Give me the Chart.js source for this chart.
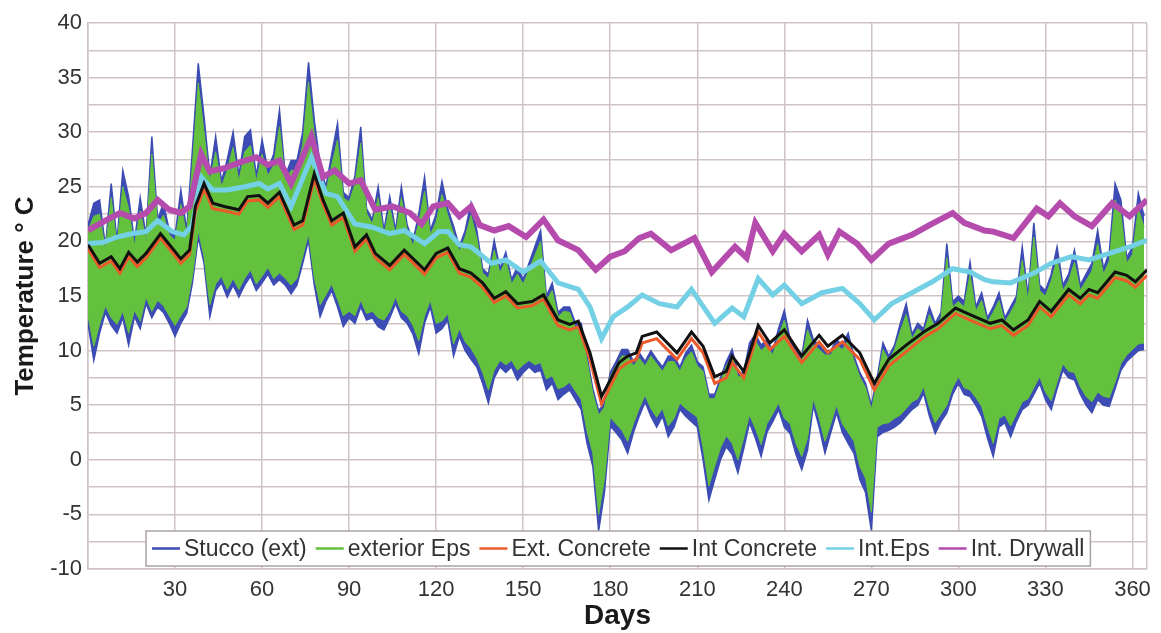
<!DOCTYPE html>
<html>
<head>
<meta charset="utf-8">
<title>Wall layer temperatures</title>
<script src="https://cdn.jsdelivr.net/npm/chart.js@4/dist/chart.umd.min.js"></script>
<style>
  html, body { margin: 0; padding: 0; background: #fff; }
  canvas { display: block; }
</style>
</head>
<body>
<canvas id="chart" width="1161" height="633"></canvas>
<script>
// ---- data -------------------------------------------------------------
// Surface layers are sampled every 2 days as daily upper / lower envelopes (°C).
const surfaceStep = 2;

const stuccoHigh = [
  21.5,23.5,23.8,19.5,25.3,20,26.5,24.1,20,24.0,
  20.5,29.6,22,23.5,21,20.5,24.7,21,28.4,36.3,
  31.4,26,29.6,25.5,27.5,30.0,26,29.6,30.2,26,
  29.3,26.5,28,32.0,26,27.4,27.4,30,36.4,31.1,
  27,25,28,30.8,24.5,24,26,30.5,23,22,
  25.0,21,24.1,21,25.0,21.5,20,22.5,25.9,21,
  22.5,25.5,23,21.4,19.5,21,23.5,21.0,17.5,17,
  20.1,17.5,19,16.5,17.7,16.5,18,19.5,21.0,15,
  16.2,13.5,14,14.0,12.5,12.5,9.5,6.5,4.5,5.2,
  8,9,10.1,10.1,9,9.8,9,10,9.2,8.5,
  9.5,9.5,8.5,9.8,10.5,9,8.5,6,6,7.5,
  9,10.1,8,8,10.7,11.5,10.5,11,10,12,
  13.7,11,10,9.5,12.8,11,10.5,10,10,11,
  10.5,11.6,9.5,8,7,5,7.5,10.7,9.5,10.5,
  12.5,14.3,11.5,12.5,12,14,12.5,13.5,19.8,14.5,
  15,14.5,18.1,14,15.3,13,14,15.3,13,14,
  15,19.5,15,21.7,16,15.5,17,19.5,16,17,
  19.2,16,17,18,21.0,17.5,19,25.3,23.8,18.5,
  19.5,24.4,22.3
];
const stuccoLow = [
  12.5,9.1,11.6,13.5,12.3,11.6,13,10.5,13.1,12,
  14.3,13,14.0,13.5,12.5,11.3,12.5,13.4,16.2,20.4,
  18,13.1,15.5,16.2,14.9,16,14.9,16,16.8,15.5,
  16.2,17,16,16.5,16,15.2,16,18,20.1,16,
  13.1,14.5,15.5,14,12.2,13,12.5,14,12.8,13,
  12.2,11.9,13,14.3,13,12.5,11.5,9.7,12.5,14.0,
  11.6,12,12.8,9.5,11.3,10,9.2,8.5,7,5.2,
  7.5,8.5,8,8.5,7.3,8,8.5,8,8.2,6.4,
  7,5.5,6,6.4,5.5,4.6,1.5,-0.6,-6.5,-3,
  3.1,2.5,1.8,0.6,2.5,4,5.3,4,3.0,4,
  2.1,3,4.6,4,3.5,3.0,0,-3.7,-1.8,0,
  1.2,0.5,-1.2,1,3.4,2,0.3,2.5,3.5,4.6,
  3,2.4,0.5,-0.9,0.9,5,3,0.6,2.5,4.3,
  2.5,1.5,0.6,-1.8,-3,-6.5,2.1,2.5,2.7,3,
  3.4,4,4.6,5,6.1,4,2.4,3.5,4.3,6,
  7.0,6,5.8,5,4.0,2,0.3,3,3.4,2.1,
  3.5,4.6,5,6,7.0,5.5,4.6,6.5,8.2,7.5,
  7.3,6,5,4.3,5.5,5,4.9,6.5,8.2,9,
  9.5,10,10.1
];
const epsHigh = [
  21.0,22.3,22.5,19.2,24.0,19.6,25.0,23.0,19.6,22.8,
  20.1,28.0,21.5,22.4,20.6,20.1,23.4,20.6,27.0,34.5,
  30.0,25.5,28.2,25.0,26.5,28.6,25.5,28.2,28.8,25.5,
  28.0,26.0,27.0,30.5,25.5,26.5,26.5,28.8,34.6,29.8,
  26.4,24.6,27.0,29.3,24.0,23.6,25.2,29.0,22.6,21.6,
  24.0,20.6,23.2,20.6,24.0,21.1,19.6,21.7,24.6,20.6,
  21.8,24.3,22.4,20.7,19.1,20.4,22.4,20.3,17.1,16.6,
  19.2,17.1,18.3,16.1,17.0,16.1,17.4,18.7,20.0,14.6,
  15.5,13.1,13.6,13.5,12.1,12.0,9.1,6.1,4.1,4.8,
  7.6,8.6,9.5,9.5,8.6,9.3,8.6,9.5,8.8,8.1,
  9.0,9.0,8.1,9.3,9.9,8.6,8.1,5.6,5.6,7.1,
  8.6,9.5,7.6,7.6,10.0,10.9,10.0,10.5,9.6,11.3,
  12.8,10.5,9.6,9.1,11.9,10.5,10.1,9.6,9.6,10.5,
  10.1,10.9,9.1,7.6,6.6,4.6,7.1,10.1,9.1,10.1,
  11.8,13.3,11.1,12.0,11.6,13.3,12.1,13.0,18.5,14.0,
  14.5,14.0,17.0,13.6,14.6,12.6,13.5,14.6,12.6,13.5,
  14.5,18.3,14.5,20.4,15.5,15.0,16.4,18.4,15.5,16.4,
  18.1,15.5,16.4,17.3,19.8,17.0,18.2,23.8,22.5,18.0,
  18.8,23.0,21.3
];
const epsLow = [
  13.2,10.4,12.4,14.1,13.0,12.4,13.6,11.6,13.7,12.7,
  14.9,13.6,14.6,14.1,13.2,12.3,13.2,14.0,16.8,21.0,
  18.6,14.2,16.1,16.8,15.6,16.6,15.6,16.6,17.4,16.1,
  16.8,17.6,16.6,17.1,16.6,16.0,16.6,18.6,20.7,16.7,
  14.2,15.1,16.1,14.7,13.2,13.6,13.2,14.6,13.4,13.6,
  13.0,12.8,13.6,14.9,13.6,13.2,12.3,10.9,13.2,14.6,
  12.5,12.7,13.4,10.6,12.0,10.8,10.2,9.3,8.0,6.4,
  8.2,9.1,8.7,9.1,8.2,8.7,9.1,8.7,8.9,7.4,
  7.7,6.5,6.7,7.1,6.3,5.5,2.6,0.6,-5.0,-1.8,
  3.9,3.3,2.7,1.7,3.3,4.7,5.9,4.7,3.9,4.7,
  3.1,3.8,5.2,4.7,4.3,3.9,1.1,-2.4,-0.6,1.1,
  2.2,1.5,0.0,2.0,4.1,2.9,1.4,3.3,4.2,5.2,
  3.8,3.3,1.5,0.3,2.0,5.6,3.8,1.7,3.3,5.0,
  3.3,2.5,1.7,-0.6,-1.7,-4.8,3.0,3.3,3.4,3.8,
  4.1,4.7,5.3,5.6,6.7,4.8,3.4,4.2,5.0,6.6,
  7.6,6.6,6.4,5.7,4.9,3.1,1.5,3.8,4.1,3.1,
  4.2,5.3,5.6,6.6,7.6,6.2,5.4,7.1,8.8,8.1,
  8.0,6.7,5.8,5.3,6.2,5.8,5.7,7.1,8.8,9.6,
  10.1,10.6,10.7
];

// Concrete core temperatures (°C) at the listed days.
const concreteDays = [
  0,4,8,11,14,17,20,25,29,32,35,37,40,43,47,52,55,59,62,66,
  71,74,78,81,84,88,92,96,99,104,109,116,120,124,128,132,136,140,144,148,
  153,157,162,166,169,173,177,180,183,186,189,191,196,203,208,212,216,220,222,226,
  231,235,240,246,252,255,260,266,271,276,282,288,293,299,304,311,315,319,324,328,
  332,338,342,345,348,354,358,361,365
];
const intConcrete = [
  19.7,18.0,18.6,17.5,19.0,18.1,18.9,20.7,19.4,18.4,19.2,23.2,25.3,23.5,23.2,22.9,24.1,24.2,23.5,24.5,
  21.5,21.9,26.2,23.8,21.9,22.6,19.5,20.6,18.9,17.8,19.2,17.4,18.9,19.4,17.5,17.1,16.2,14.8,15.4,14.3,
  14.5,15.1,12.8,12.4,12.7,9.8,5.8,7.3,8.9,9.5,9.8,11.3,11.7,9.8,11.7,10.4,7.6,8.1,9.5,8.1,
  12.3,10.7,11.9,9.5,11.4,10.4,11.4,9.8,7.0,9.2,10.5,11.7,12.5,13.9,13.3,12.5,12.8,11.9,12.8,14.5,
  13.6,15.6,14.8,15.6,15.3,17.2,16.9,16.3,17.4
];
const extConcrete = [
  19.3,17.6,18.2,17.1,18.6,17.7,18.5,20.3,19.0,18.0,18.8,22.7,24.8,23.0,22.8,22.5,23.7,23.8,23.1,24.1,
  21.1,21.5,25.7,23.4,21.5,22.2,19.1,20.2,18.5,17.4,18.8,17.0,18.5,19.0,17.1,16.7,15.8,14.4,15.0,13.9,
  14.1,14.7,12.3,11.9,12.2,9.2,5.1,6.7,8.3,8.9,9.2,10.7,11.1,9.2,11.1,9.8,7.0,7.5,8.9,7.5,
  11.7,10.1,11.3,8.9,10.8,9.8,10.8,9.2,6.4,8.6,9.9,11.2,12.0,13.4,12.8,12.0,12.3,11.4,12.3,14.0,
  13.1,15.1,14.3,15.1,14.8,16.7,16.4,15.8,16.9
];

// Interior insulation (EPS) temperatures (°C).
const intEpsDays = [
  0,5,10,15,20,24,29,33,36,39,43,48,54,59,62,66,70,77,82,86,
  92,98,104,109,116,121,124,128,132,139,144,150,156,162,169,173,177,181,186,191,
  197,203,208,216,222,226,231,236,240,246,253,260,266,271,277,284,291,298,304,309,
  312,318,326,332,339,345,352,359,365
];
const intEps = [
  19.8,19.9,20.4,20.7,20.9,21.9,20.9,20.6,21.5,25.9,24.7,24.7,25.0,25.3,24.8,25.3,23.2,27.7,24.4,24.1,
  21.6,21.3,20.7,21.0,19.8,20.9,20.9,19.7,19.5,18.0,18.3,17.2,18.2,16.2,15.6,14.0,11.1,13.1,14.0,15.1,
  14.3,14.0,15.6,12.5,13.9,13.1,16.6,15.1,16.0,14.3,15.3,15.7,14.3,12.8,14.3,15.3,16.3,17.5,17.2,16.5,
  16.3,16.2,17.1,18.0,18.6,18.3,18.9,19.5,20.1
];

// Interior drywall temperatures (°C).
const drywallDays = [
  0,6,11,16,20,24,28,32,35,39,42,47,53,58,62,66,70,77,81,85,
  90,94,99,105,111,115,119,124,128,132,135,140,145,151,157,162,169,175,180,185,
  190,194,201,209,215,223,227,230,236,240,246,252,255,259,265,270,276,284,290,298,
  302,309,312,319,327,331,335,340,346,353,359,365
];
const intDrywall = [
  21.0,21.9,22.6,22.1,22.6,23.8,22.9,22.6,23.2,28.0,26.4,26.7,27.3,27.7,27.0,27.4,25.3,29.6,25.9,26.5,
  25.3,25.6,22.9,23.2,22.6,21.6,23.2,23.5,22.3,23.2,21.5,21.0,21.4,20.4,22.0,20.1,19.2,17.4,18.6,19.1,
  20.3,20.7,19.2,20.3,17.2,19.5,18.5,21.7,19.1,20.7,19.1,20.6,18.8,20.9,19.8,18.3,19.8,20.6,21.5,22.6,
  21.7,21.0,20.9,20.3,23.0,22.3,23.5,22.3,21.4,23.5,22.3,23.8
];

const seriesNames = ['Stucco (ext)', 'exterior Eps', 'Ext. Concrete', 'Int Concrete', 'Int.Eps', 'Int. Drywall'];
// Day grid lines: every 30 days plus the end of the year.
const dayTicks = [0, 30, 60, 90, 120, 150, 180, 210, 240, 270, 300, 330, 360, 365];
const xLabelStep = 30;
const yLabelStep = 5;

// ---- helpers ----------------------------------------------------------
const surfaceDays = stuccoHigh.map((_, i) => i * surfaceStep);
const toPoints = (xs, ys) => ys.map((y, i) => ({ x: xs[i], y }));

const COLORS = {
  stucco: '#3c4cb4',
  eps: '#63c13e',
  ext: '#ec5a2c',
  int: '#111111',
  intEps: '#74d0e4',
  drywall: '#b64bae'
};
const GRID = '#cfc3c3';
const FONT = "'Liberation Sans', Arial, Helvetica, sans-serif";

Chart.defaults.font.family = FONT;
Chart.defaults.color = '#333';

// Legend box drawn inside the plot, along its lower edge.
const insideLegend = {
  id: 'insideLegend',
  afterDraw(chart) {
    const { ctx, chartArea } = chart;
    ctx.save();
    ctx.font = '23px ' + FONT;
    const swatch = 28, textGap = 4, itemGap = 9, padX = 6, boxH = 35;
    const items = seriesNames.map(name => {
      const ds = chart.data.datasets.find(d => d.label === name);
      return { name, color: ds.borderColor, w: ctx.measureText(name).width };
    });
    const boxW = items.reduce((s, it) => s + swatch + textGap + it.w, 0)
      + itemGap * (items.length - 1) + padX * 2;
    const left = chartArea.left + 58;
    const top = chartArea.bottom - 3 - boxH;
    ctx.fillStyle = '#ffffff';
    ctx.fillRect(left, top, boxW, boxH);
    ctx.strokeStyle = '#aaa2a2';
    ctx.lineWidth = 1.5;
    ctx.strokeRect(left, top, boxW, boxH);
    let x = left + padX;
    const cy = top + boxH / 2;
    items.forEach(it => {
      ctx.strokeStyle = it.color;
      ctx.lineWidth = 2.5;
      ctx.beginPath();
      ctx.moveTo(x, cy);
      ctx.lineTo(x + swatch, cy);
      ctx.stroke();
      x += swatch + textGap;
      ctx.fillStyle = '#333';
      ctx.textBaseline = 'middle';
      ctx.textAlign = 'left';
      ctx.fillText(it.name, x, cy + 1);
      x += it.w + itemGap;
    });
    ctx.restore();
  }
};

const line = (label, data, color, width, order, extra) => Object.assign({
  label, data,
  borderColor: color,
  backgroundColor: color,
  borderWidth: width,
  pointRadius: 0,
  tension: 0,
  fill: false,
  order
}, extra || {});

new Chart(document.getElementById('chart'), {
  type: 'line',
  data: {
    datasets: [
      line('Stucco (ext)', toPoints(surfaceDays, stuccoHigh), COLORS.stucco, 1.5, 6, { fill: '+1' }),
      line('', toPoints(surfaceDays, stuccoLow), COLORS.stucco, 1.5, 6),
      line('exterior Eps', toPoints(surfaceDays, epsHigh), COLORS.eps, 1, 5, { fill: '+1' }),
      line('', toPoints(surfaceDays, epsLow), COLORS.eps, 1, 5),
      line('Ext. Concrete', toPoints(concreteDays, extConcrete), COLORS.ext, 3, 2),
      line('Int Concrete', toPoints(concreteDays, intConcrete), COLORS.int, 3, 1),
      line('Int.Eps', toPoints(intEpsDays, intEps), COLORS.intEps, 5, 4),
      line('Int. Drywall', toPoints(drywallDays, intDrywall), COLORS.drywall, 6, 3)
    ]
  },
  options: {
    responsive: false,
    animation: false,
    devicePixelRatio: 1,
    layout: { padding: { top: 23, right: 14, bottom: 0, left: 0 } },
    plugins: {
      legend: { display: false },
      tooltip: { enabled: false }
    },
    scales: {
      x: {
        type: 'linear',
        min: 0,
        max: 365,
        afterBuildTicks(scale) { scale.ticks = dayTicks.map(value => ({ value })); },
        afterFit(scale) { scale.height = 64; },
        grid: { color: GRID, lineWidth: 1.5, drawTicks: false },
        border: { color: GRID, width: 1.5 },
        ticks: {
          autoSkip: false,
          maxRotation: 0,
          padding: 8,
          color: '#333',
          font: { size: 22 },
          callback: v => (v > 0 && v % xLabelStep === 0) ? v : ''
        },
        title: {
          display: true,
          text: 'Days',
          color: '#1a1a1a',
          font: { size: 28, weight: 'bold' },
          padding: { top: 0, bottom: 0 }
        }
      },
      y: {
        min: -10,
        max: 40,
        afterFit(scale) { scale.width = 88; },
        grid: { color: GRID, lineWidth: 1.5, drawTicks: false },
        border: { color: GRID, width: 1.5 },
        ticks: {
          stepSize: 2.5,
          autoSkip: false,
          padding: 6,
          color: '#333',
          font: { size: 22 },
          callback: v => (v % yLabelStep === 0) ? v : ''
        },
        title: {
          display: true,
          text: 'Temperature ° C',
          color: '#1a1a1a',
          font: { size: 26, weight: 'bold' },
          padding: { top: 10, bottom: 0 }
        }
      }
    }
  },
  plugins: [insideLegend]
});
</script>
</body>
</html>
